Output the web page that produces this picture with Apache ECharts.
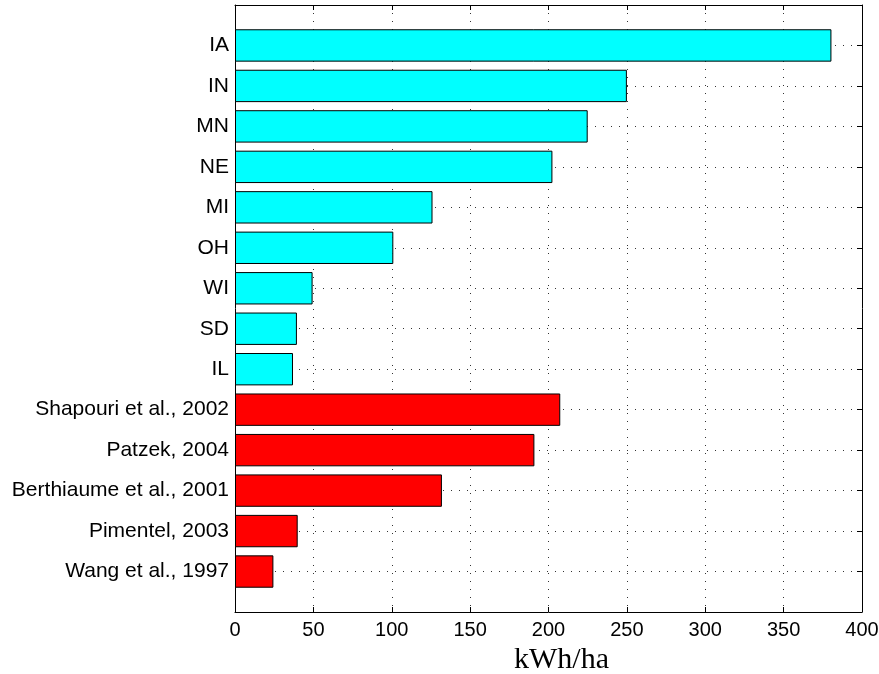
<!DOCTYPE html>
<html>
<head>
<meta charset="utf-8">
<script src="https://cdn.jsdelivr.net/npm/echarts@6/dist/echarts.min.js"></script>
<style>html,body{margin:0;padding:0;background:#fff;}#c{width:879px;height:674px;}</style>
</head>
<body>
<div id="c"></div>
<script>
const categories = ['IA','IN','MN','NE','MI','OH','WI','SD','IL',
  'Shapouri et al., 2002','Patzek, 2004','Berthiaume et al., 2001','Pimentel, 2003','Wang et al., 1997'];
const values = [380.5, 250, 225, 202.5, 126, 101, 49.5, 39.5, 37, 207.5, 191, 132, 40, 24.5];
const groups = ['state','state','state','state','state','state','state','state','state',
  'study','study','study','study','study'];
const groupColors = { state: '#00FFFF', study: '#FF0000' };
const xTicks = { min: 0, max: 400, interval: 50 };

const axisData = [''].concat(categories, ['']);
const seriesData = [{ value: '-' }].concat(
  values.map((v, i) => ({ value: v, itemStyle: { color: groupColors[groups[i]] } })),
  [{ value: '-' }]
);

const gridLine = { show: true, lineStyle: { color: '#333', type: [1, 7], width: 1 } };
const lineBlack = { show: true, onZero: false, lineStyle: { color: '#000', width: 1 } };
const tickIn = { show: true, inside: true, length: 5, lineStyle: { color: '#000' } };
const sans = 'Liberation Sans, Arial, Helvetica, sans-serif';

const chart = echarts.init(document.getElementById('c'), null, { renderer: 'canvas' });
chart.setOption({
  backgroundColor: '#fff',
  animation: false,
  grid: { left: 235, right: 17, top: 5, bottom: 62, containLabel: false, outerBoundsMode: 'none' },
  xAxis: [
    { type: 'value', position: 'bottom', min: xTicks.min, max: xTicks.max, interval: xTicks.interval,
      axisLine: lineBlack, axisTick: tickIn, splitLine: gridLine,
      axisLabel: { color: '#000', fontSize: 20, fontFamily: sans, margin: 8 },
      name: 'kWh/ha', nameLocation: 'middle', nameGap: 31,
      nameTextStyle: { color: '#000', fontSize: 30, fontFamily: 'Liberation Serif, Times New Roman, serif',
        padding: [0, 0, 0, 26] } },
    { type: 'value', position: 'top', min: xTicks.min, max: xTicks.max, interval: xTicks.interval,
      axisLine: lineBlack, axisTick: tickIn, splitLine: { show: false }, axisLabel: { show: false } }
  ],
  yAxis: [
    { type: 'category', position: 'left', data: axisData, inverse: true, boundaryGap: false,
      axisLine: lineBlack, axisTick: tickIn, splitLine: gridLine,
      axisLabel: { color: '#000', fontSize: 21, fontFamily: sans, margin: 6, interval: 0 } },
    { type: 'category', position: 'right', data: axisData, inverse: true, boundaryGap: false,
      axisLine: lineBlack, axisTick: tickIn, splitLine: { show: false }, axisLabel: { show: false } }
  ],
  series: [{
    type: 'bar', xAxisIndex: 0, yAxisIndex: 0, barWidth: '80%',
    data: seriesData,
    itemStyle: { borderColor: '#000', borderWidth: 1 },
    emphasis: { disabled: true }
  }]
});
</script>
</body>
</html>
